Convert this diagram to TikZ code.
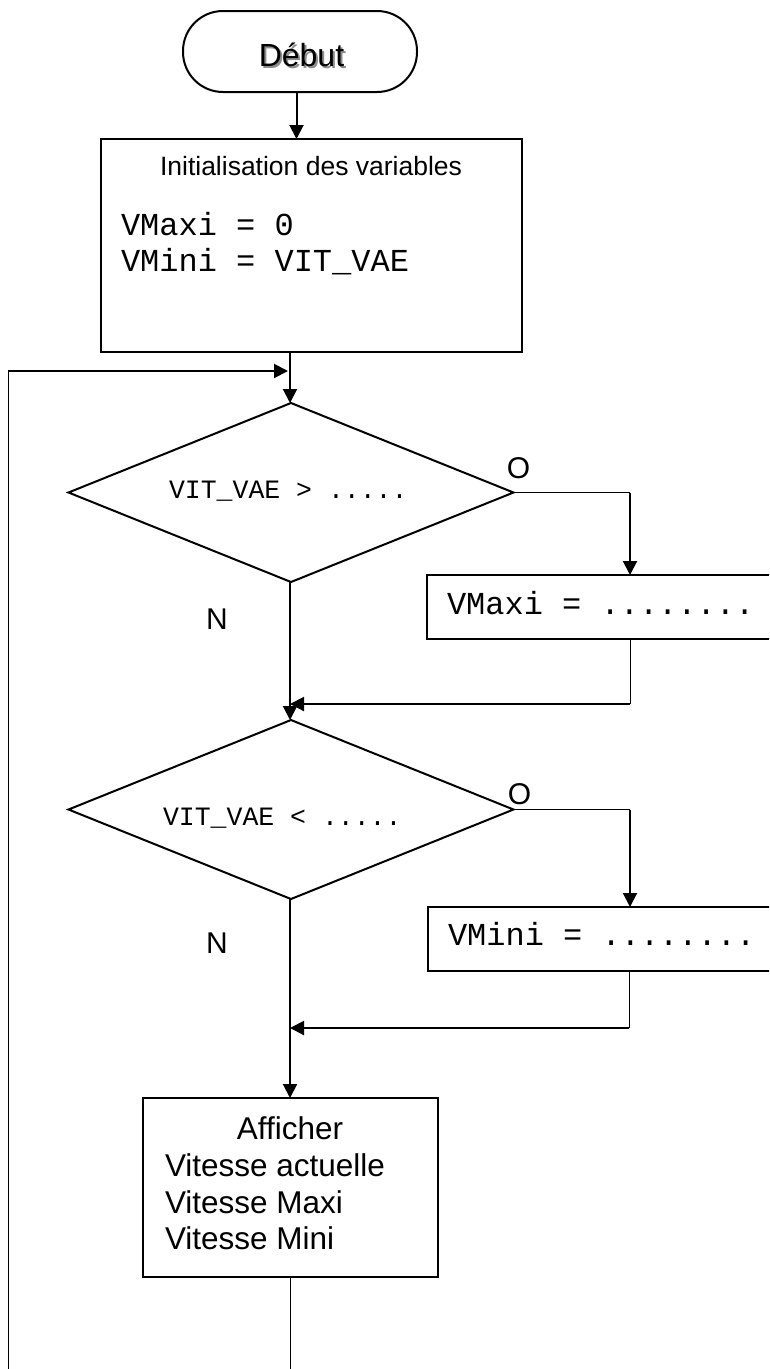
\documentclass[tikz,border=0pt]{standalone}
\usepackage{fontspec}
\setmainfont{Liberation Sans}
\setmonofont{Liberation Mono}
\usetikzlibrary{arrows.meta,shapes.geometric}
\begin{document}
\begin{tikzpicture}[x=1pt,y=-1pt,
  shapebox/.style={draw, line width=2pt, inner sep=0pt, outer sep=0pt},
  decision/.style={shapebox, diamond, minimum width=445pt, minimum height=179pt},
  arr/.style={line width=2pt, -{Triangle[length=14pt,width=14pt]}},
  thinl/.style={line width=1pt},
  thickl/.style={line width=2pt},
  txt/.style={inner sep=0pt, outer sep=0pt},
  sansbig/.style={txt, font=\fontsize{31.5}{37}\selectfont},
  sansmid/.style={txt, font=\fontsize{26.5}{32}\selectfont},
  monobig/.style={txt, font=\ttfamily\fontsize{32}{38}\selectfont},
  monosmall/.style={txt, font=\ttfamily\fontsize{26.5}{32}\selectfont},
  yn/.style={txt, font=\fontsize{30}{36}\selectfont}
]
\fill[white] (0,0) rectangle (769,1369);
\clip (0,0) rectangle (769,1369);

% shapes
\node[shapebox, rounded corners=40pt, minimum width=234pt, minimum height=81pt] (start) at (300,51.5) {};
\node[shapebox, minimum width=421pt, minimum height=213pt] (init) at (311.5,245.5) {};
\node[decision] (d1) at (291,492.5) {};
\node[shapebox, minimum width=373pt, minimum height=64pt] (vmaxi) at (613.5,607) {};
\node[decision] (d2) at (291,809.5) {};
\node[shapebox, minimum width=373pt, minimum height=64pt] (vmini) at (614.5,939) {};
\node[shapebox, minimum width=295pt, minimum height=179pt] (aff) at (290.5,1187.5) {};

% texts
\node[txt, anchor=base, text=black!45, font=\fontsize{32}{38}\selectfont] (startsh) at (303.5,68.5) {Début};
\node[txt, anchor=base, font=\fontsize{32}{38}\selectfont] (starttxt) at (301.5,66.7) {Début};
\node[sansmid, anchor=base] (inittitle) at (311,175) {Initialisation des variables};
\node[monobig, anchor=base west] (init1) at (121,235) {VMaxi = 0};
\node[monobig, anchor=base west] (init2) at (121,271) {VMini = VIT\_VAE};
\node[monosmall, anchor=base west] (d1txt) at (169,498) {VIT\_VAE > .....};
\node[monosmall, anchor=base west] (d2txt) at (163,825) {VIT\_VAE < .....};
\node[monobig, anchor=base west] (vmaxitxt) at (447,614) {VMaxi = ........};
\node[monobig, anchor=base west] (vminitxt) at (448,945) {VMini = ........};
\node[yn, anchor=base] (n1) at (217,629) {N};
\node[yn, anchor=base] (o1) at (518.5,478) {O};
\node[yn, anchor=base] (n2) at (217,953) {N};
\node[yn, anchor=base] (o2) at (519.5,804) {O};
\node[sansbig, anchor=base] (aff0) at (290,1139) {Afficher};
\node[sansbig, anchor=base west] (aff1) at (165,1176) {Vitesse actuelle};
\node[sansbig, anchor=base west] (aff2) at (165,1213) {Vitesse Maxi};
\node[sansbig, anchor=base west] (aff3) at (165,1249.6) {Vitesse Mini};

% junction coordinates
\coordinate (j0) at (290,371);
\coordinate (j1) at (290,704);
\coordinate (j2) at (290,1028);
\coordinate (c1) at (630,492.5);
\coordinate (c2) at (630,704);
\coordinate (c3) at (630,809.5);
\coordinate (c4) at (629,1028);
\coordinate (lb) at (8,1369);
\coordinate (lt) at (8,371);
\coordinate (ab) at (290,1369);

% connectors
\draw[arr] ([xshift=-3.5pt]start.south) -- ([xshift=-3.5pt]start.south |- init.north);
\draw[arr] (j0 |- init.south) -- (j0 |- d1.north);
\draw[thinl] (lb) -- (lt);
\draw[arr] (lt) -- ([xshift=-2pt]j0);
\draw[thinl] (d1.east) -- (c1);
\draw[arr] (c1) -- (c1 |- vmaxi.north);
\draw[thinl] (c1 |- vmaxi.south) -- (c2);
\draw[arr] (c2) -- (j1);
\draw[arr] (j0 |- d1.south) -- (j0 |- d2.north);
\draw[thinl] (d2.east) -- (c3);
\draw[arr] (c3) -- (c3 |- vmini.north);
\draw[thinl] (c4 |- vmini.south) -- (c4);
\draw[arr] (c4) -- (j2);
\draw[arr] (j0 |- d2.south) -- (j0 |- aff.north);
\draw[thinl] (j0 |- aff.south) -- (ab);
\end{tikzpicture}
\end{document}
